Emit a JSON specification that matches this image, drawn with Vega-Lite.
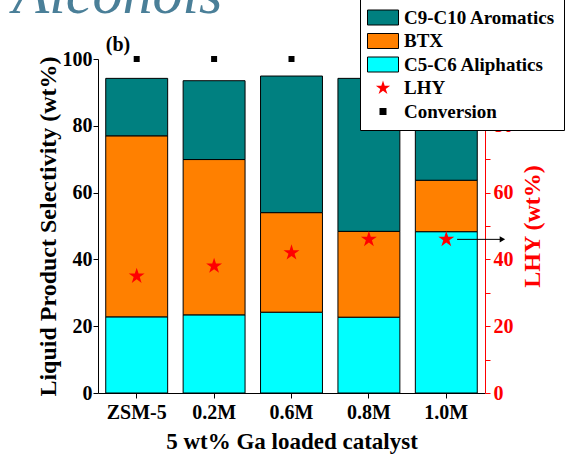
{
  "$schema": "https://vega.github.io/schema/vega-lite/v6.json",
  "width": 387,
  "height": 334,
  "autosize": "none",
  "padding": {"left": 98, "top": 59, "right": 84, "bottom": 66},
  "config": {
    "font": "Liberation Serif",
    "view": {"stroke": null},
    "axis": {
      "grid": false,
      "labelFont": "Liberation Serif",
      "labelFontWeight": "bold",
      "labelFontSize": 20,
      "labelColor": "black",
      "titleFont": "Liberation Serif",
      "titleFontWeight": "bold",
      "titleFontSize": 24,
      "titleColor": "black",
      "domainColor": "black",
      "tickColor": "black",
      "domainWidth": 1,
      "tickWidth": 1
    },
    "legend": {
      "title": null,
      "orient": "none",
      "legendX": 262,
      "legendY": -60,
      "padding": 8,
      "fillColor": "white",
      "strokeColor": "black",
      "symbolSize": 400,
      "symbolOffset": 4.5,
      "labelOffset": 10.5,
      "rowPadding": 2.5,
      "symbolStrokeWidth": 1,
      "labelFont": "Liberation Serif",
      "labelFontWeight": "bold",
      "labelFontSize": 19,
      "labelColor": "black",
      "labelLimit": 0
    }
  },
  "datasets": {
    "sel": [
      {"catalyst": "ZSM-5", "series": "C5-C6 Aliphatics", "value": 22.8},
      {"catalyst": "ZSM-5", "series": "BTX", "value": 54.2},
      {"catalyst": "ZSM-5", "series": "C9-C10 Aromatics", "value": 17.2},
      {"catalyst": "0.2M", "series": "C5-C6 Aliphatics", "value": 23.4},
      {"catalyst": "0.2M", "series": "BTX", "value": 46.5},
      {"catalyst": "0.2M", "series": "C9-C10 Aromatics", "value": 23.6},
      {"catalyst": "0.6M", "series": "C5-C6 Aliphatics", "value": 24.2},
      {"catalyst": "0.6M", "series": "BTX", "value": 29.8},
      {"catalyst": "0.6M", "series": "C9-C10 Aromatics", "value": 40.9},
      {"catalyst": "0.8M", "series": "C5-C6 Aliphatics", "value": 22.7},
      {"catalyst": "0.8M", "series": "BTX", "value": 25.7},
      {"catalyst": "0.8M", "series": "C9-C10 Aromatics", "value": 45.8},
      {"catalyst": "1.0M", "series": "C5-C6 Aliphatics", "value": 48.3},
      {"catalyst": "1.0M", "series": "BTX", "value": 15.4},
      {"catalyst": "1.0M", "series": "C9-C10 Aromatics", "value": 30.5}
    ],
    "conv": [
      {"catalyst": "ZSM-5", "series": "Conversion", "value": 100},
      {"catalyst": "0.2M", "series": "Conversion", "value": 100},
      {"catalyst": "0.6M", "series": "Conversion", "value": 100},
      {"catalyst": "0.8M", "series": "Conversion", "value": 100},
      {"catalyst": "1.0M", "series": "Conversion", "value": 100}
    ],
    "lhy": [
      {"catalyst": "ZSM-5", "series": "LHY", "value": 35.0},
      {"catalyst": "0.2M", "series": "LHY", "value": 38.0},
      {"catalyst": "0.6M", "series": "LHY", "value": 42.0},
      {"catalyst": "0.8M", "series": "LHY", "value": 46.0},
      {"catalyst": "1.0M", "series": "LHY", "value": 46.0}
    ],
    "arrow": [
      {"from": 0.928, "to": 1.045, "value": 46.0}
    ]
  },
  "layer": [
    {
      "layer": [
        {
          "data": {"name": "sel"},
          "transform": [
            {"calculate": "indexof(['C5-C6 Aliphatics', 'BTX', 'C9-C10 Aromatics'], datum.series)", "as": "stackOrder"}
          ],
          "mark": {"type": "bar", "stroke": "black", "strokeWidth": 1},
          "encoding": {
            "x": {
              "field": "catalyst",
              "type": "nominal",
              "sort": ["ZSM-5", "0.2M", "0.6M", "0.8M", "1.0M"],
              "scale": {"paddingInner": 0.2, "paddingOuter": 0.1},
              "axis": {
                "orient": "bottom",
                "title": "5 wt% Ga loaded catalyst",
                "titleFontSize": 23,
                "labelAngle": 0,
                "tickSize": 5,
                "labelPadding": 4,
                "titlePadding": 8
              }
            },
            "y": {
              "field": "value",
              "type": "quantitative",
              "stack": "zero",
              "scale": {"domain": [0, 100], "nice": false},
              "axis": {
                "orient": "left",
                "title": "Liquid Product Selectivity (wt%)",
                "values": [0, 10, 20, 30, 40, 50, 60, 70, 80, 90, 100],
                "labelExpr": "datum.value % 20 === 0 ? datum.label : ''",
                "tickSize": 5,
                "labelPadding": 1,
                "titlePadding": 2
              }
            },
            "order": {"field": "stackOrder", "type": "quantitative", "sort": "ascending"},
            "color": {
              "field": "series",
              "type": "nominal",
              "scale": {
                "domain": ["C9-C10 Aromatics", "BTX", "C5-C6 Aliphatics", "LHY", "Conversion"],
                "range": ["#008080", "#FF8000", "#00FFFF", "#FF0000", "#000000"]
              }
            }
          }
        },
        {
          "data": {"name": "conv"},
          "mark": {"type": "point", "shape": "square", "size": 36, "filled": true, "opacity": 1},
          "encoding": {
            "x": {"field": "catalyst", "type": "nominal", "sort": ["ZSM-5", "0.2M", "0.6M", "0.8M", "1.0M"]},
            "y": {"field": "value", "type": "quantitative"},
            "color": {"field": "series", "type": "nominal"}
          }
        },
        {
          "data": {"values": [{"label": "(b)"}]},
          "mark": {"type": "text", "align": "left", "baseline": "alphabetic", "fontSize": 20, "fontWeight": "bold", "font": "Liberation Serif", "color": "black"},
          "encoding": {
            "text": {"field": "label"},
            "x": {"datum": "ZSM-5", "bandPosition": 0},
            "y": {"datum": 102.4}
          }
        }
      ]
    },
    {
      "data": {"name": "lhy"},
      "mark": {"type": "point", "filled": true, "size": 500, "opacity": 1},
      "encoding": {
        "x": {
          "field": "catalyst",
          "type": "nominal",
          "sort": ["ZSM-5", "0.2M", "0.6M", "0.8M", "1.0M"],
          "scale": {"paddingInner": 0.2, "paddingOuter": 0.1},
          "axis": null
        },
        "y": {
          "field": "value",
          "type": "quantitative",
          "scale": {"domain": [0, 100], "nice": false},
          "axis": {
            "orient": "right",
            "title": "LHY (wt%)",
            "titleColor": "#FF0000",
            "titleAngle": 270,
            "labelColor": "#FF0000",
            "domainColor": "#FF0000",
            "tickColor": "#FF0000",
            "values": [0, 10, 20, 30, 40, 50, 60, 70, 80, 90, 100],
            "labelExpr": "datum.value % 20 === 0 ? datum.label : ''",
            "tickSize": 5,
            "labelPadding": 3,
            "titlePadding": 21
          }
        },
        "color": {"field": "series", "type": "nominal"},
        "shape": {
          "field": "series",
          "type": "nominal",
          "scale": {
            "domain": ["C9-C10 Aromatics", "BTX", "C5-C6 Aliphatics", "LHY", "Conversion"],
            "range": ["M-1.55,-0.75H1.55V0.75H-1.55Z", "M-1.55,-0.75H1.55V0.75H-1.55Z", "M-1.55,-0.75H1.55V0.75H-1.55Z", "M0,-0.75L0.1684,-0.2318L0.7133,-0.2318L0.2725,0.0885L0.4409,0.6068L0,0.2865L-0.4409,0.6068L-0.2725,0.0885L-0.7133,-0.2318L-0.1684,-0.2318Z", "M-0.35,-0.35H0.35V0.35H-0.35Z"]
          }
        },
        "stroke": {
          "field": "series",
          "type": "nominal",
          "scale": {
            "domain": ["C9-C10 Aromatics", "BTX", "C5-C6 Aliphatics", "LHY", "Conversion"],
            "range": ["black", "black", "black", "transparent", "transparent"]
          }
        }
      }
    },
    {
      "data": {"name": "arrow"},
      "layer": [
        {
          "mark": {"type": "rule", "color": "black", "strokeWidth": 1},
          "encoding": {
            "x": {
              "field": "from",
              "type": "quantitative",
              "scale": {"domain": [0, 1], "nice": false, "zero": false},
              "axis": {
                "orient": "top",
                "title": "Alcohols",
                "labels": false,
                "ticks": false,
                "domain": false,
                "grid": false,
                "titleX": -86,
                "titleY": -47,
                "titleAlign": "left",
                "titleAnchor": "start",
                "titleAngle": 0,
                "titleBaseline": "alphabetic",
                "titleFont": "Liberation Serif",
                "titleFontStyle": "italic",
                "titleFontWeight": "normal",
                "titleFontSize": 60,
                "titleColor": "#4a7f98"
              }
            },
            "x2": {"field": "to"},
            "y": {"field": "value", "type": "quantitative", "scale": {"domain": [0, 100], "nice": false}, "axis": null}
          }
        },
        {
          "mark": {"type": "point", "shape": "triangle-right", "filled": true, "size": 40, "color": "black", "opacity": 1},
          "encoding": {
            "x": {"field": "to", "type": "quantitative"},
            "y": {"field": "value", "type": "quantitative"}
          }
        }
      ]
    }
  ],
  "resolve": {"scale": {"x": "independent", "y": "independent"}}
}
